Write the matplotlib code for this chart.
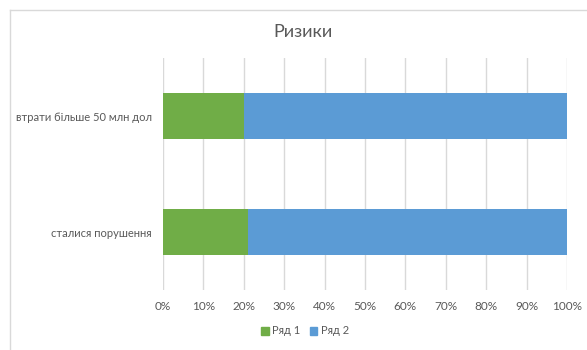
import matplotlib
matplotlib.use("Agg")
import matplotlib.pyplot as plt
from matplotlib.lines import Line2D
from matplotlib.patches import Patch

plt.rcParams['font.family'] = ['Lato', 'DejaVu Sans']

categories = ["сталися порушення", "втрати більше 50 млн дол"]
series1 = [21, 20]
series2 = [79, 80]
series_names = ["Ряд 1", "Ряд 2"]
colors = ["#70AD47", "#5B9BD5"]
xticks = [0, 10, 20, 30, 40, 50, 60, 70, 80, 90, 100]

text_color = "#595959"
grid_color = "#D9D9D9"

fig = plt.figure(figsize=(5.87, 3.5), dpi=100)
ax = fig.add_axes([163 / 587, 1 - 290 / 350, 404 / 587, 232 / 350])

# 100% stacked bars
totals = [a + b for a, b in zip(series1, series2)]
p1 = [a / t * 100 for a, t in zip(series1, totals)]
p2 = [b / t * 100 for b, t in zip(series2, totals)]
ypos = list(range(len(categories)))
ax.barh(ypos, p1, height=0.4, color=colors[0], zorder=3)
ax.barh(ypos, p2, left=p1, height=0.4, color=colors[1], zorder=3)

ax.set_xlim(0, 100)
ax.set_ylim(-0.5, len(categories) - 0.5)
ax.set_xticks(xticks)
ax.set_xticklabels([f"{v}%" for v in xticks])
ax.set_yticks(ypos)
ax.set_yticklabels(categories)
ax.xaxis.grid(True, color=grid_color, linewidth=1, zorder=0)
ax.tick_params(axis='both', length=0, colors=text_color)
ax.tick_params(axis='x', pad=8, labelsize=8.5)
ax.tick_params(axis='y', pad=8, labelsize=8)
for s in ax.spines.values():
    s.set_visible(False)

fig.text(303 / 587, 1 - 32 / 350, "Ризики", ha='center', va='center',
         fontsize=13, color=text_color)

handles = [Patch(color=c, label=n) for c, n in zip(colors, series_names)]
fig.legend(handles=handles, loc='center', bbox_to_anchor=(305 / 587, 1 - 331 / 350),
           ncol=2, frameon=False, fontsize=8, labelcolor=text_color,
           handlelength=0.7, handleheight=0.7, handletextpad=0.3, columnspacing=0.8)

# chart frame, only the top-left corner shows
fig.add_artist(Line2D([9.5 / 587, 9.5 / 587], [0, 1 - 9.5 / 350], color=grid_color,
                      linewidth=1, transform=fig.transFigure))
fig.add_artist(Line2D([9.5 / 587, 1], [1 - 9.5 / 350, 1 - 9.5 / 350], color=grid_color,
                      linewidth=1, transform=fig.transFigure))

fig.savefig("out.png", dpi=100, facecolor='white')
